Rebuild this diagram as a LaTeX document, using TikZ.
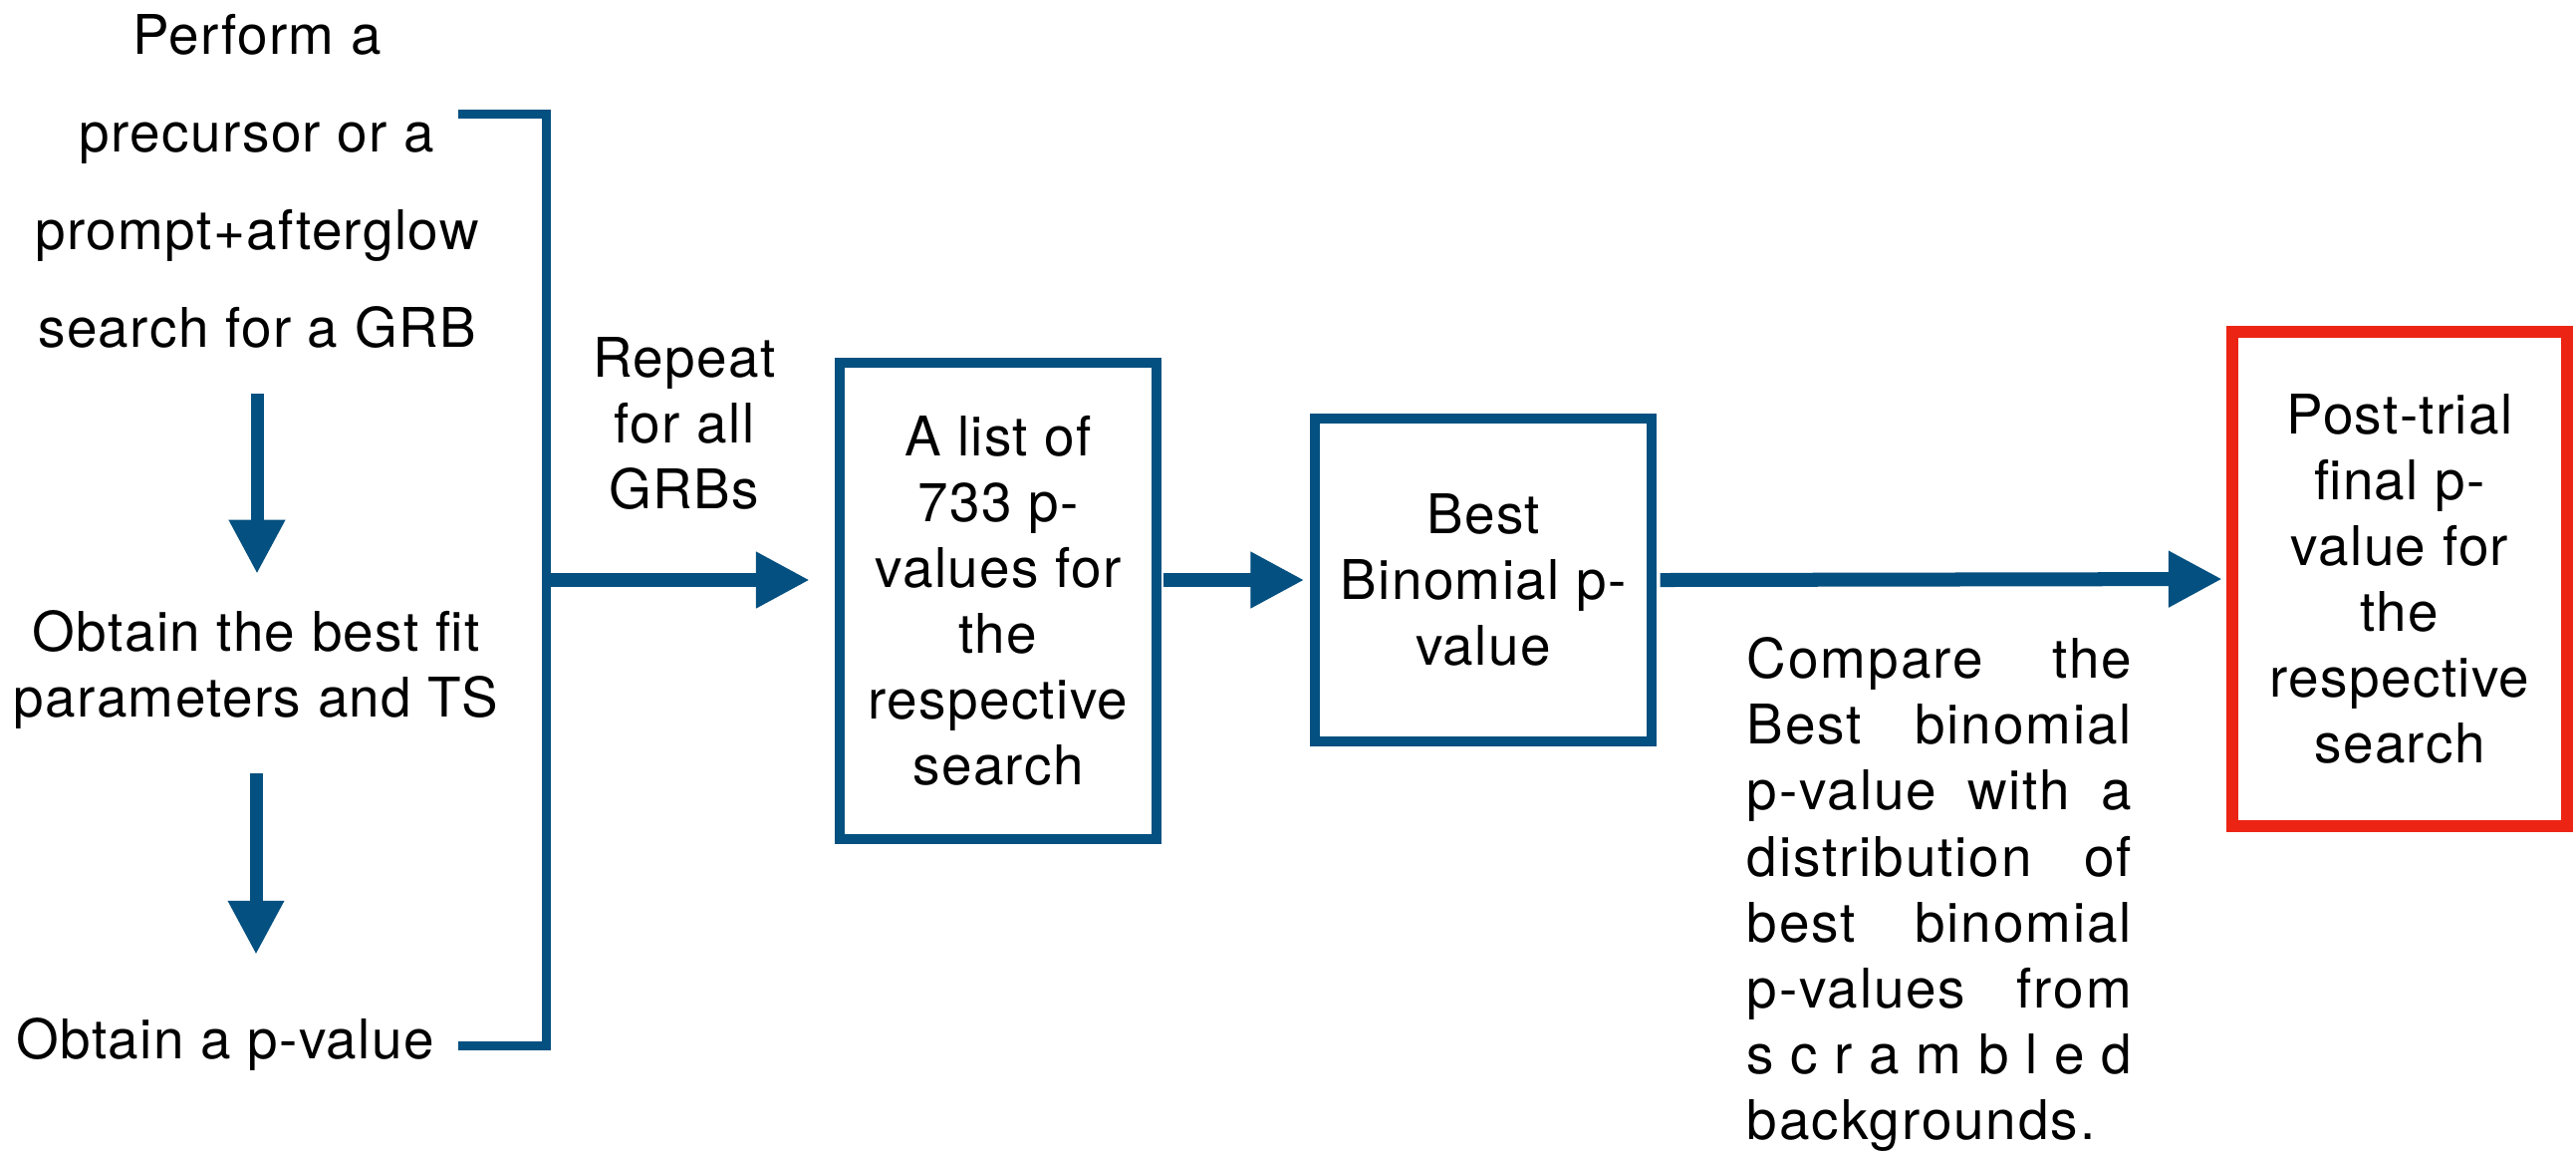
\documentclass[tikz,border=0pt]{standalone}
\usepackage{fontspec}
\setmainfont{TeX Gyre Heros}[LetterSpace=2.5]
\usetikzlibrary{arrows.meta}

\definecolor{grbblue}{RGB}{4,80,128}
\definecolor{grbred}{RGB}{236,36,20}

\newcommand\flowfont{\fontsize{15.6}{18.8}\selectfont}
\newcommand\widefont{\fontsize{15.6}{27.9}\selectfont}
\newcommand\cmpwidth{3.86cm}
\newcommand\cmpline[1]{\makebox[\cmpwidth][s]{#1}}

\tikzset{
  txt/.style={inner sep=0pt, align=center, font=\flowfont},
  stepbox/.style={draw=grbblue, line width=0.1cm, inner sep=0pt, align=center, font=\flowfont},
  flow/.style={draw=grbblue, line width=0.14cm, -{Triangle[length=0.54cm,width=0.53cm]}},
  down/.style={draw=grbblue, line width=0.13cm, -{Triangle[length=0.54cm,width=0.53cm]}},
  brace/.style={draw=grbblue, line width=0.09cm, line join=miter},
}

\begin{document}
\begin{tikzpicture}[x=0.01cm, y=-0.01cm]
  \useasboundingbox (0,0) rectangle (2586,1156);

  % per-GRB chain on the left
  \node[txt, font=\widefont] (perform) at (258,182)
    {Perform a\\precursor or a\\prompt+afterglow\\search for a GRB};
  \node[txt] (obtainfit) at (257,672) {Obtain the best fit\\parameters and TS};
  \node[txt] (obtainp) at (226,1048) {Obtain a p-value};

  \draw[down, shorten <=0.45cm, shorten >=0.36cm]
    (perform.south) -- (perform.south |- obtainfit.north);
  \draw[down, shorten <=0.44cm, shorten >=0.63cm]
    (obtainfit.south) -- (obtainfit.south |- obtainp.north);

  % bracket round the chain
  \coordinate (brktop) at (460,114);
  \coordinate (brktopr) at (548,114);
  \coordinate (brkbotr) at (548,1049);
  \coordinate (brkbot) at (460,1049);
  \coordinate (brkmid) at (548,582);
  \draw[brace] (brktop) -- (brktopr) -- (brkbotr) -- (brkbot);

  \node[txt] (repeat) at (687,425) {Repeat\\for all\\GRBs};

  % boxes
  \node[stepbox, minimum width=3.18cm, minimum height=4.77cm] (list) at (1002,603)
    {A list of\\733 p-\\values for\\the\\respective\\search};
  \node[stepbox, minimum width=3.37cm, minimum height=3.23cm] (best) at (1489,582)
    {Best\\Binomial p-\\value};
  \node[stepbox, draw=grbred, line width=0.12cm, minimum width=3.36cm,
        minimum height=4.95cm] (final) at (2409,581)
    {Post-trial\\final p-\\value for\\the\\respective\\search};

  \draw[flow, shorten >=0.25cm] (brkmid) -- (brkmid -| list.west);
  \draw[flow, shorten <=0.02cm, shorten >=0.06cm] (list.east |- best.west) -- (best.west);
  \draw[flow, shorten <=0.04cm, shorten >=0.04cm] (best.east) -- (final.west);

  \node[inner sep=0pt, anchor=north west, align=left,
        font=\flowfont\addfontfeature{LetterSpace=3.5}] (compare) at (1753,639)
    {\cmpline{Compare the}\\
     \cmpline{Best binomial}\\
     \cmpline{p-value with a}\\
     \cmpline{distribution of}\\
     \cmpline{best binomial}\\
     \cmpline{p-values from}\\
     \cmpline{s\hfill c\hfill r\hfill a\hfill m\hfill b\hfill l\hfill e\hfill d}\\
     backgrounds.};
\end{tikzpicture}
\end{document}
